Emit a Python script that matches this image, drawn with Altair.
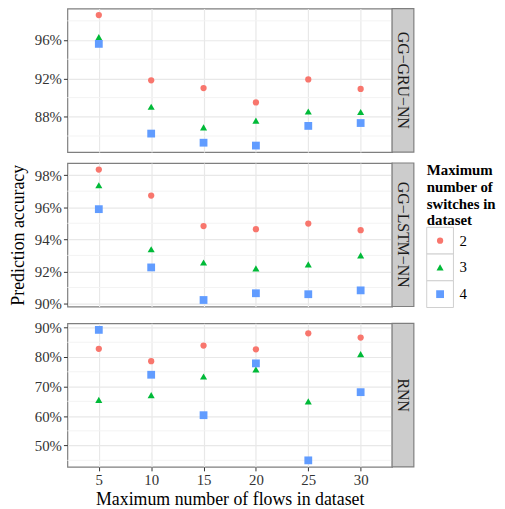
import altair as alt
import pandas as pd

# ---- data ----
flows = [5, 10, 15, 20, 25, 30]
switches = ["2", "3", "4"]
models = ["GG-GRU-NN", "GG-LSTM-NN", "RNN"]
strip_text = ["GG\u2212GRU\u2212NN", "GG\u2212LSTM\u2212NN", "RNN"]
legend_title = "Maximum\nnumber of\nswitches in\ndataset"

gru_2 = [98.6, 91.8, 91.0, 89.5, 91.9, 90.9]
gru_3 = [96.3, 89.05, 86.9, 87.6, 88.55, 88.5]
gru_4 = [95.6, 86.25, 85.3, 85.0, 87.05, 87.35]

lstm_2 = [98.35, 96.73, 94.83, 94.63, 94.98, 94.57]
lstm_3 = [97.37, 93.38, 92.56, 92.19, 92.44, 93.0]
lstm_4 = [95.88, 92.25, 90.22, 90.64, 90.58, 90.82]

rnn_2 = [82.8, 78.6, 83.9, 82.6, 88.05, 86.6]
rnn_3 = [65.5, 67.1, 73.4, 75.8, 65.0, 81.0]
rnn_4 = [89.2, 74.0, 60.3, 77.85, 45.0, 68.1]

major_ticks = [[0.88, 0.92, 0.96], [0.90, 0.92, 0.94, 0.96, 0.98], [0.5, 0.6, 0.7, 0.8, 0.9]]
minor_ticks = [[0.86, 0.90, 0.94, 0.98], [0.91, 0.93, 0.95, 0.97], [0.45, 0.55, 0.65, 0.75, 0.85]]

series = {
    "GG-GRU-NN": [gru_2, gru_3, gru_4],
    "GG-LSTM-NN": [lstm_2, lstm_3, lstm_4],
    "RNN": [rnn_2, rnn_3, rnn_4],
}

rows = []
for m in models:
    for sw, vals in zip(switches, series[m]):
        for f, v in zip(flows, vals):
            rows.append({"model": m, "switch": sw, "flows": f, "acc": v / 100.0})
df = pd.DataFrame(rows)

FONT = "Liberation Serif"
COLORS = ["#F8766D", "#00BA38", "#619CFF"]
SHAPES = ["circle", "triangle-up", "square"]
SIZES = [40, 62, 44]
W, H, STRIP = 328, 145, 22
KEY = 27

step = flows[1] - flows[0]
x_scale = alt.Scale(domain=[min(flows) - 0.6 * step, max(flows) + 0.6 * step], nice=False, zero=False)
color_enc = alt.Color("switch:N", scale=alt.Scale(domain=switches, range=COLORS), legend=None)
shape_enc = alt.Shape("switch:N", scale=alt.Scale(domain=switches, range=SHAPES), legend=None)
size_enc = alt.Size("switch:O", scale=alt.Scale(domain=switches, range=SIZES), legend=None)


def panel(i, m):
    d = df[df["model"] == m]
    lo, hi = d["acc"].min(), d["acc"].max()
    pad = 0.05 * (hi - lo)
    y_scale = alt.Scale(domain=[lo - pad, hi + pad], nice=False, zero=False)
    bottom = i == len(models) - 1
    if bottom:
        xaxis = alt.Axis(values=flows, grid=True, domain=False, titlePadding=3,
                         title="Maximum number of flows in dataset")
    else:
        xaxis = alt.Axis(values=flows, grid=True, labels=False, ticks=False, domain=False,
                         title=None, labelPadding=0, titlePadding=0)
    # a blank title on the outer panels keeps every plot area aligned
    yax = dict(values=major_ticks[i], format=".0%", grid=True, domain=False, titlePadding=7,
               title="Prediction accuracy" if i == 1 else " ")

    minor = alt.Chart(pd.DataFrame({"v": minor_ticks[i]})).mark_rule(
        color="#F3F3F3", strokeWidth=1
    ).encode(y=alt.Y("v:Q", scale=y_scale, axis=alt.Axis(**yax)))

    pts = alt.Chart(d).mark_point(filled=True, opacity=1).encode(
        x=alt.X("flows:Q", scale=x_scale, axis=xaxis),
        y=alt.Y("acc:Q", scale=y_scale, axis=alt.Axis(**yax)),
        color=color_enc, shape=shape_enc, size=size_enc,
    )

    sd = pd.DataFrame({"lab": [strip_text[i]]})
    strip_bg = alt.Chart(sd).mark_rect(fill="#CCCCCC", stroke="#7F7F7F", strokeWidth=1.2).encode(
        x=alt.value(W), x2=alt.value(W + STRIP), y=alt.value(0), y2=alt.value(H)
    )
    strip_lab = alt.Chart(sd).mark_text(
        angle=90, font=FONT, fontSize=16, color="#1A1A1A", align="center", baseline="middle"
    ).encode(text="lab:N", x=alt.value(W + STRIP / 2), y=alt.value(H / 2))

    return alt.layer(minor, pts, strip_bg, strip_lab).properties(width=W, height=H)


def legend_chart():
    ld = pd.DataFrame({"switch": switches})
    yk = alt.Y("switch:O", scale=alt.Scale(domain=switches, range=[H - 3 * KEY + 1, H + 1],
                                             paddingInner=0, paddingOuter=0), axis=None)
    boxes = alt.Chart(ld).mark_rect(fill="white", stroke="#CFCFCF", strokeWidth=1).encode(
        x=alt.value(0), x2=alt.value(KEY), y=yk
    )
    keys = alt.Chart(ld).mark_point(filled=True, opacity=1).encode(
        x=alt.value(KEY / 2), y=yk, color=color_enc, shape=shape_enc, size=size_enc
    )
    labs = alt.Chart(ld).mark_text(align="left", baseline="middle", font=FONT, fontSize=15,
                                   color="black").encode(x=alt.value(KEY + 6), y=yk, text="switch:N")
    title = alt.Chart(pd.DataFrame({"t": [legend_title]})).mark_text(
        align="left", baseline="top", font=FONT, fontSize=15, fontWeight="bold", color="black",
        lineBreak="\n", lineHeight=17
    ).encode(x=alt.value(0), y=alt.value(0), text="t:N")
    return alt.layer(boxes, keys, labs, title).properties(
        width=70, height=H, view=alt.ViewBackground(stroke="transparent")
    )


rows_ = [panel(i, m) for i, m in enumerate(models)]
rows_[1] = alt.hconcat(rows_[1], legend_chart(), spacing=9)

chart = alt.vconcat(*rows_, spacing=7).resolve_scale(
    y="independent"
).properties(
    padding={"left": 0, "top": -4, "right": 0, "bottom": 0}
).configure(font=FONT).configure_view(
    stroke="#7F7F7F", strokeWidth=1.2
).configure_axis(
    labelFont=FONT, titleFont=FONT, labelFontSize=15, titleFontSize=18, titleFontWeight="normal",
    labelColor="#333333", titleColor="black", gridColor="#E8E8E8", gridWidth=1.2,
    tickColor="#333333", tickSize=4, tickWidth=1, labelPadding=2,
)

chart.save("out.html", embed_options={"renderer": "svg", "actions": False})
